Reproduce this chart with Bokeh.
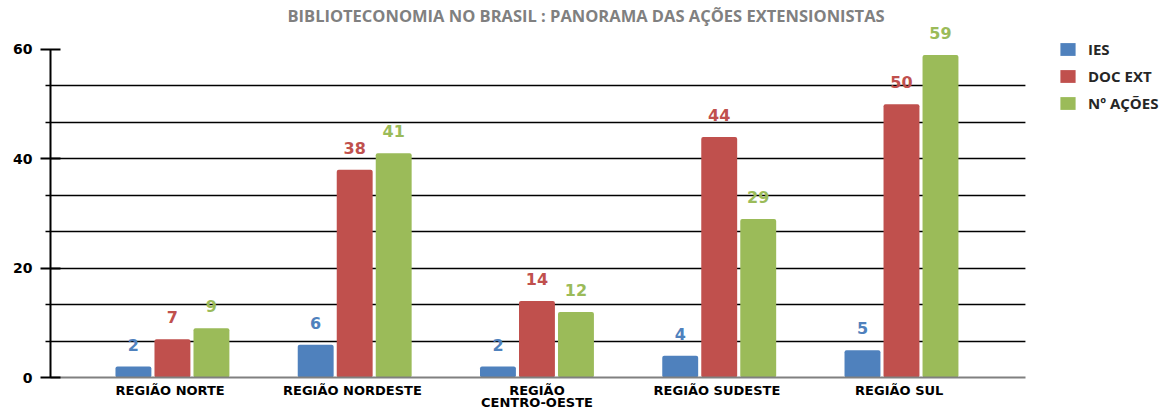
from bokeh.plotting import figure
from bokeh.models import (Range1d, FixedTicker, ColumnDataSource, LabelSet, Legend, LegendItem,
                          BoxAnnotation)
from bokeh.core.properties import value
from bokeh.embed import file_html
from bokeh.resources import INLINE

categories = ["REGIÃO  NORTE", "REGIÃO  NORDESTE", "REGIÃO\nCENTRO-OESTE", "REGIÃO  SUDESTE", "REGIÃO  SUL"]
series_names = ["IES", "DOC EXT", "Nº AÇÕES"]
ies = [2, 6, 2, 4, 5]
doc_ext = [7, 38, 14, 44, 50]
n_acoes = [9, 41, 12, 29, 59]
y_ticks = [0, 20, 40, 60]

colors = ["#4F81BD", "#C0504D", "#9BBB59"]
offsets = [-0.214, 0.0, 0.214]
bar_w = 0.197
x_lo, x_axis_hi, x_hi = -0.669, 4.68, 5.476

p = figure(width=1170, height=412, x_range=Range1d(x_lo, x_hi), y_range=Range1d(0, 64.2),
           output_backend="svg", toolbar_location=None,
           min_border_left=50, min_border_right=0, min_border_top=26, min_border_bottom=35)
p.outline_line_color = None
p.background_fill_color = "white"

p.title.text = "BIBLIOTECONOMIA NO BRASIL : PANORAMA DAS AÇÕES EXTENSIONISTAS"
p.title.align = "left"
p.title.offset = 237
p.title.standoff = 0
p.title.text_font = "Open Sans"
p.title.text_font_style = "bold"
p.title.text_font_size = "16.5px"
p.title.text_color = "#808080"

p.xgrid.grid_line_color = None
p.ygrid.ticker = FixedTicker(ticks=[60 / 9 * k for k in range(1, 9)])
p.ygrid.grid_line_color = "black"
p.ygrid.grid_line_width = 1.3
# blank the area right of the plotting region (legend area)
p.add_layout(BoxAnnotation(left=x_axis_hi, fill_color="white", fill_alpha=1.0,
                           line_color=None, level="underlay"))

renderers = []
for vals, off, col in zip([ies, doc_ext, n_acoes], offsets, colors):
    xs = [i + off for i in range(len(categories))]
    src = ColumnDataSource(dict(x=xs, top=vals, lab=[str(v) for v in vals]))
    r = p.vbar(x="x", top="top", width=bar_w, bottom=0, source=src, fill_color=col,
               line_color=None, border_radius=2)
    renderers.append(r)
    p.add_layout(LabelSet(x="x", y="top", text="lab", source=src, y_offset=22,
                          text_align="center", text_baseline="middle",
                          text_font=value("DejaVu Sans"), text_font_style="bold",
                          text_font_size="16px", text_color=col))

# axes
minor = [60 / 9 * k for k in range(1, 9) if k not in (3, 6)]
p.yaxis.bounds = (0, 60)
p.yaxis.ticker = FixedTicker(ticks=y_ticks, minor_ticks=minor)
p.yaxis.major_tick_in = 10
p.yaxis.major_tick_out = 10
p.yaxis.minor_tick_in = 0
p.yaxis.minor_tick_out = 5
p.yaxis.major_tick_line_width = 2
p.yaxis.minor_tick_line_width = 1.5
p.yaxis.axis_line_width = 2
p.yaxis.axis_line_color = "black"
p.yaxis.major_label_text_font = "DejaVu Sans"
p.yaxis.major_label_text_font_style = "bold"
p.yaxis.major_label_text_font_size = "14px"
p.yaxis.major_label_text_color = "black"
p.yaxis.major_label_standoff = 8

p.xaxis.bounds = (x_lo, x_axis_hi)
p.xaxis.ticker = FixedTicker(ticks=list(range(len(categories))))
p.xaxis.major_label_overrides = {i: c for i, c in enumerate(categories)}
p.xaxis.major_tick_in = 0
p.xaxis.major_tick_out = 0
p.xaxis.major_tick_line_color = None
p.xaxis.minor_tick_line_color = None
p.xaxis.axis_line_color = "#808080"
p.xaxis.axis_line_width = 2
p.xaxis.major_label_text_font = "DejaVu Sans"
p.xaxis.major_label_text_font_style = "bold"
p.xaxis.major_label_text_font_size = "13px"
p.xaxis.major_label_text_color = "black"
p.xaxis.major_label_text_line_height = 0.8
p.xaxis.major_label_standoff = 5

legend = Legend(items=[LegendItem(label=n, renderers=[r]) for n, r in zip(series_names, renderers)],
                location=(1008, 264), orientation="vertical",
                glyph_width=19, glyph_height=16, label_height=16, spacing=7,
                label_standoff=11, padding=0, margin=0,
                border_line_color=None, background_fill_alpha=0,
                label_text_font="Open Sans", label_text_font_style="bold",
                label_text_font_size="15px", label_text_color="#262626")
p.add_layout(legend, "center")

open("out.html", "w").write(file_html(p, INLINE))
